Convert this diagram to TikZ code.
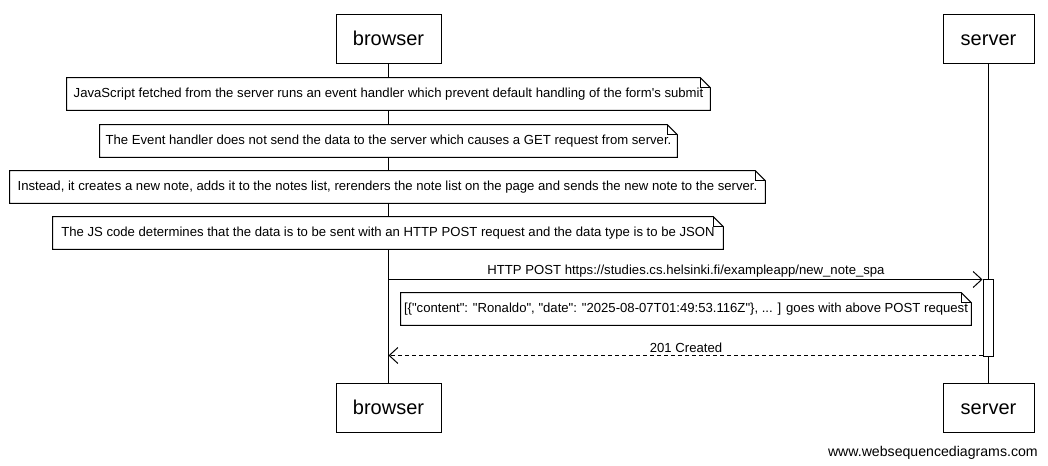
\documentclass[tikz,border=0pt]{standalone}
\usepackage{fontspec}
\setmainfont{Liberation Sans}[Ligatures=TeXOff]
\usetikzlibrary{arrows.meta,calc}
\newcommand\dogear[1]{%
  \draw[line width=0.75pt] (#1.north west) -- ($(#1.north east)+(-10,0)$) -- ($(#1.north east)+(0,10)$) -- (#1.south east) -- (#1.south west) -- cycle;
  \draw[line width=0.75pt] ($(#1.north east)+(-10,0)$) -- ($(#1.north east)+(-10,10)$) -- ($(#1.north east)+(0,10)$);}
\begin{document}
\begin{tikzpicture}[x=0.75pt,y=-0.75pt,
  actor/.style={draw,line width=0.75pt,fill=white,minimum height=49*0.75pt,inner sep=0pt,text height=12pt,text depth=2.25pt,font=\fontsize{15pt}{18pt}\selectfont},
  notebox/.style={fill=white,inner sep=0pt,minimum height=32*0.75pt,font=\fontsize{9.85pt}{12pt}\selectfont},
  lifeline/.style={line width=0.75pt},
  msg/.style={line width=0.75pt,-{Straight Barb[length=6.5pt,width=12pt]}},
  ret/.style={msg,dash pattern=on 3pt off 2.25pt},
  lbl/.style={font=\fontsize{9.85pt}{12pt}\selectfont,inner sep=0pt}]
\useasboundingbox (0,0) rectangle (1048,466);
% participants
\node[actor,minimum width=105*0.75pt] (bt) at (388.5,39.5) {browser};
\node[actor,minimum width=91*0.75pt] (st) at (988.5,39.5) {server};
\node[actor,minimum width=105*0.75pt] (bb) at (388.5,407.5) {browser};
\node[actor,minimum width=91*0.75pt] (sb) at (988.5,407.5) {server};
% lifelines
\draw[lifeline] (bt.south) -- (bb.north);
\draw[lifeline] (st.south) -- (sb.north);
% notes
\node[notebox,minimum width=643*0.75pt] (n1) at (388.5,94) {JavaScript fetched from the server runs an event handler which prevent default handling of the form's submit};
\dogear{n1}
\node[notebox,minimum width=577*0.75pt] (n2) at (388.5,141) {The Event handler does not send the data to the server which causes a GET request from server.};
\dogear{n2}
\node[notebox,minimum width=755*0.75pt] (n3) at (387.5,187) {Instead, it creates a new note, adds it to the notes list, rerenders the note list on the page and sends the new note to the server.};
\dogear{n3}
\node[notebox,minimum width=670*0.75pt] (n4) at (388,233) {The JS code determines that the data is to be sent with an HTTP POST request and the data type is to be JSON};
\dogear{n4}
% activation
\node[draw,line width=0.75pt,fill=white,minimum width=10*0.75pt,minimum height=76*0.75pt,inner sep=0pt] (act) at (988,318) {};
% messages
\draw[msg] (bt.south |- act.north west) -- (act.north west);
\node[lbl,anchor=base] (l1) at (686,275) {HTTP POST https://studies.cs.helsinki.fi/exampleapp/new\_note\_spa};
\node[notebox,minimum width=570*0.75pt] (n5) at (686,309) {[\{"content": "Ronaldo", "date": "2025-08-07T01:49:53.116Z"\}, ... ] goes with above POST request};
\dogear{n5}
\coordinate (r0) at ($(act.south west)+(0,-1)$);
\draw[ret] (r0) -- (bt.south |- r0);
\node[lbl,anchor=base] (l2) at (686,352) {201 Created};
% watermark
\node[font=\fontsize{10.6pt}{12pt}\selectfont,inner sep=0pt,anchor=base east] (wm) at (1038,456) {www.websequencediagrams.com};
\end{tikzpicture}
\end{document}
